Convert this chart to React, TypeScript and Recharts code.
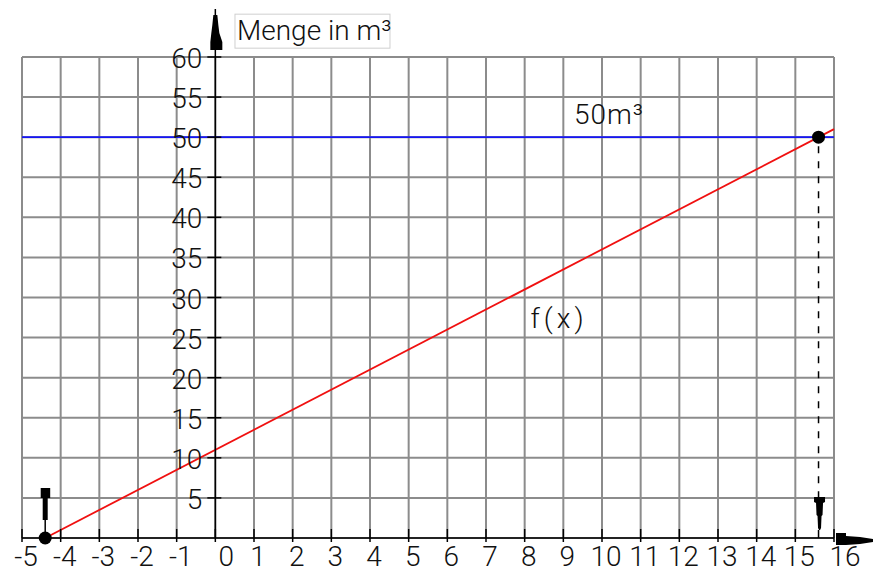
import {
  CartesianGrid,
  ComposedChart,
  Line,
  ReferenceDot,
  ReferenceLine,
  Scatter,
  XAxis,
  YAxis,
} from "recharts";

const xTicks = [-5, -4, -3, -2, -1, 0, 1, 2, 3, 4, 5, 6, 7, 8, 9, 10, 11, 12, 13, 14, 15, 16];
const yGridTicks = [0, 5, 10, 15, 20, 25, 30, 35, 40, 45, 50, 55, 60];
const yLabelTicks = [5, 10, 15, 20, 25, 30, 35, 40, 45, 50, 55, 60];

// f(x): starts on the x axis, leaves the grid at x = 16
const fLine = [
  { x: -4.4, y: 0 },
  { x: 16, y: 51 },
];
// the two marked points: zero of f and where f reaches 50 m³
const markedPoints = [
  { x: -4.4, y: 0 },
  { x: 15.6, y: 50 },
];
const limitValue = 50;
const yAxisTop = 66;
const xArrowEnd = 16.9;

const axisTitle = { text: "Menge in m³", x: 0.56, y: 62.1 };
const limitLabel = { text: "50m³", x: 10.18, y: 51.6 };
const fLabel = { text: "f(x)", x: 8.89, y: 26.2 };

const FONT = "Roboto, 'Liberation Sans', Arial, sans-serif";
const textStyle = { fontFamily: FONT, fontSize: 28, fontWeight: 300, fill: "#111" };

function XTick(props: any) {
  const { x, y, payload } = props;
  const v = payload.value;
  const dx = v === 0 || v === xTicks[xTicks.length - 1] ? 11 : 4;
  return (
    <g>
      <line x1={x} y1={y - 9} x2={x} y2={y + 4} stroke="#000" strokeWidth={1.5} />
      <text x={x + dx} y={y + 28} textAnchor="middle" {...textStyle}>
        {v}
      </text>
    </g>
  );
}

const yTickShape = (v: number) => (p: any) => (
  <g>
    <line x1={p.x1 - 8} y1={p.y1} x2={p.x1 + 6} y2={p.y1} stroke="#000" strokeWidth={1.5} />
    <text x={p.x1 - 13} y={p.y1 + 11} textAnchor="end" {...textStyle}>
      {v}
    </text>
  </g>
);

function YAxisShape(p: any) {
  const { x1, y1, x2, y2 } = p;
  const t = y2 + 6;
  const pts = [
    [x1 - 2, t],
    [x1 + 2, t],
    [x1 + 3, t + 10],
    [x1 + 4, t + 18],
    [x1 + 7, t + 27],
    [x1 + 7, t + 35],
    [x1 - 5, t + 35],
    [x1 - 5, t + 27],
    [x1 - 4, t + 18],
    [x1 - 3, t + 10],
  ];
  return (
    <g>
      <line x1={x1} y1={y1} x2={x2} y2={y2} stroke="#000" strokeWidth={1.5} />
      <polygon points={pts.map((q) => q.join(",")).join(" ")} fill="#000" />
    </g>
  );
}

function XArrowShape(p: any) {
  const { x1, y1 } = p;
  const pts = [
    [x1 + 2, y1 - 5],
    [x1 + 12, y1 - 5],
    [x1 + 12, y1 - 2],
    [x1 + 26, y1 - 1],
    [x1 + 39, y1 + 1],
    [x1 + 39, y1 + 4],
    [x1 + 26, y1 + 6],
    [x1 + 12, y1 + 7],
    [x1 + 2, y1 + 7],
  ];
  return <polygon points={pts.map((q) => q.join(",")).join(" ")} fill="#000" />;
}

function DropShape(p: any) {
  const { x1, y1, y2 } = p;
  const c = x1 + 1;
  const t = y2 - 41;
  const pts = [
    [c - 5.5, t],
    [c + 5.5, t],
    [c + 5.5, t + 5],
    [c + 3.5, t + 6],
    [c + 3, t + 18],
    [c + 2, t + 19],
    [c + 1.5, t + 31],
    [c + 0.5, t + 33],
    [c - 0.5, t + 33],
    [c - 1.5, t + 31],
    [c - 2, t + 19],
    [c - 3, t + 18],
    [c - 3.5, t + 6],
    [c - 5.5, t + 5],
  ];
  return (
    <g>
      <line x1={x1} y1={y1 + 9} x2={x1} y2={t} stroke="#000" strokeWidth={1.5} strokeDasharray="7 8" />
      <polygon points={pts.map((q) => q.join(",")).join(" ")} fill="#000" />
      <line x1={x1} y1={t + 33} x2={x1} y2={y2} stroke="#000" strokeWidth={1.5} />
    </g>
  );
}

function ZeroMarkShape(p: any) {
  const { cx, cy } = p;
  return (
    <g>
      <line x1={cx} y1={cy} x2={cx} y2={cy - 18} stroke="#000" strokeWidth={1.5} />
      <rect x={cx - 2.5} y={cy - 41} width={5} height={23} fill="#000" />
      <rect x={cx - 4.5} y={cy - 50} width={9.5} height={10} fill="#000" />
    </g>
  );
}

export default function App() {
  return (
    <div style={{ position: "absolute", left: 0, top: 0, background: "#fff" }}>
      <ComposedChart width={873} height={567} margin={{ top: 57, right: 39, bottom: 0, left: 22 }}>
        <CartesianGrid
          stroke="#8c8c8c"
          strokeWidth={2}
          horizontalValues={yGridTicks}
          verticalValues={xTicks}
        />
        <XAxis
          type="number"
          dataKey="x"
          domain={[-5, 16]}
          ticks={xTicks}
          interval={0}
          height={29}
          axisLine={{ stroke: "#000", strokeWidth: 1.5 }}
          tickLine={false}
          tickSize={0}
          tickMargin={0}
          tick={<XTick />}
        />
        <YAxis
          type="number"
          dataKey="y"
          domain={[0, 60]}
          ticks={yGridTicks}
          interval={0}
          width={0}
          axisLine={false}
          tickLine={false}
          tick={() => <g />}
        />
        <ReferenceLine y={limitValue} stroke="#1515f5" strokeWidth={1.8} />
        <Line
          data={fLine}
          dataKey="y"
          type="linear"
          stroke="#f01010"
          strokeWidth={1.8}
          dot={false}
          activeDot={false}
          isAnimationActive={false}
        />
        <ReferenceLine
          segment={[{ x: markedPoints[1].x, y: markedPoints[1].y }, { x: markedPoints[1].x, y: 0 }]}
          ifOverflow="visible"
          shape={DropShape}
        />
        <ReferenceLine
          segment={[{ x: 0, y: 0 }, { x: 0, y: yAxisTop }]}
          ifOverflow="visible"
          shape={YAxisShape}
        />
        <ReferenceLine
          segment={[{ x: 16, y: 0 }, { x: xArrowEnd, y: 0 }]}
          ifOverflow="visible"
          shape={XArrowShape}
        />
        {yLabelTicks.map((v) => (
          <ReferenceLine
            key={v}
            segment={[{ x: 0, y: v }, { x: 0, y: v }]}
            ifOverflow="visible"
            shape={yTickShape(v)}
          />
        ))}
        <ReferenceDot
          x={markedPoints[0].x}
          y={markedPoints[0].y}
          ifOverflow="visible"
          shape={ZeroMarkShape}
        />
        <Scatter
          data={markedPoints}
          isAnimationActive={false}
          shape={(p: any) => <circle cx={p.cx} cy={p.cy} r={6.5} fill="#000" />}
        />
        <ReferenceDot
          x={limitLabel.x}
          y={limitLabel.y}
          ifOverflow="visible"
          shape={(p: any) => (
            <text x={p.cx} y={p.cy} textAnchor="middle" letterSpacing={1} {...textStyle}>
              {limitLabel.text}
            </text>
          )}
        />
        <ReferenceDot
          x={fLabel.x}
          y={fLabel.y}
          ifOverflow="visible"
          shape={(p: any) => (
            <text x={p.cx} y={p.cy} textAnchor="middle" letterSpacing={4} {...textStyle}>
              {fLabel.text}
            </text>
          )}
        />
        <ReferenceDot
          x={axisTitle.x}
          y={axisTitle.y}
          ifOverflow="visible"
          shape={(p: any) => (
            <g>
              <rect x={p.cx - 2} y={p.cy - 26} width={155} height={34} fill="#fff" stroke="#cfcfcf" />
              <text x={p.cx} y={p.cy} {...textStyle}>
                {axisTitle.text}
              </text>
            </g>
          )}
        />
      </ComposedChart>
    </div>
  );
}
